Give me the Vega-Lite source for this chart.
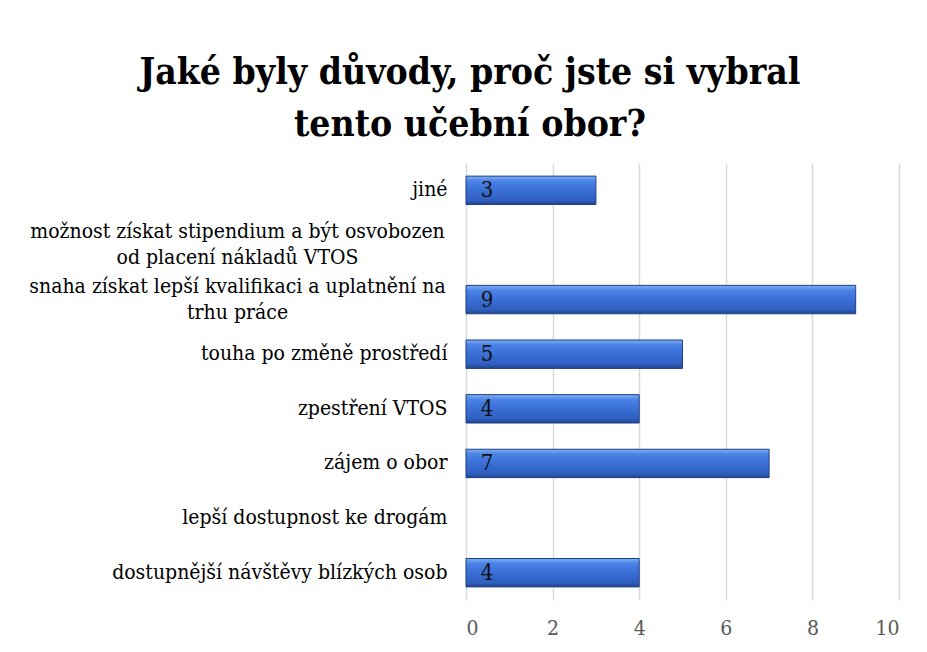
{
  "$schema": "https://vega.github.io/schema/vega-lite/v6.json",
  "width": 433,
  "height": 437,
  "autosize": {"type": "none"},
  "padding": {"left": 466, "top": 163, "right": 28, "bottom": 52},
  "background": "white",
  "title": {
    "text": ["Jaké byly důvody, proč jste si vybral", "tento učební obor?"],
    "font": "DejaVu Serif Condensed",
    "fontSize": 37,
    "fontWeight": "bold",
    "color": "#000000",
    "lineHeight": 52,
    "anchor": "middle",
    "frame": "bounds",
    "offset": 19,
    "dx": 6
  },
  "data": {
    "values": [
      {"reason": "jiné", "value": 3},
      {"reason": "možnost získat stipendium a být osvobozen|od placení nákladů VTOS", "value": 0},
      {"reason": "snaha získat lepší kvalifikaci a uplatnění na|trhu práce", "value": 9},
      {"reason": "touha po změně prostředí", "value": 5},
      {"reason": "zpestření VTOS", "value": 4},
      {"reason": "zájem o obor", "value": 7},
      {"reason": "lepší dostupnost ke drogám", "value": 0},
      {"reason": "dostupnější návštěvy blízkých osob", "value": 4}
    ]
  },
  "encoding": {
    "y": {
      "field": "reason",
      "type": "nominal",
      "sort": null,
      "scale": {
        "domain": [
          "jiné",
          "možnost získat stipendium a být osvobozen|od placení nákladů VTOS",
          "snaha získat lepší kvalifikaci a uplatnění na|trhu práce",
          "touha po změně prostředí",
          "zpestření VTOS",
          "zájem o obor",
          "lepší dostupnost ke drogám",
          "dostupnější návštěvy blízkých osob"
        ],
        "paddingInner": 0.48,
        "paddingOuter": 0.24
      },
      "axis": {
        "title": null,
        "domain": false,
        "ticks": false,
        "labelFont": "DejaVu Serif Condensed",
        "labelFontSize": 21,
        "labelColor": "#000000",
        "labelLimit": 600,
        "labelLineHeight": 26,
        "labelExpr": "split(datum.label, '|')",
        "labelAlign": {"condition": {"test": "indexof(datum.value, '|') >= 0", "value": "center"}, "value": "right"},
        "labelPadding": {"condition": {"test": "indexof(datum.value, '|') >= 0", "value": 229}, "value": 19},
        "labelOffset": {"condition": {"test": "indexof(datum.value, '|') >= 0", "value": -13}, "value": 0}
      }
    },
    "x": {
      "field": "value",
      "type": "quantitative",
      "scale": {"domain": [0, 10]},
      "axis": {
        "title": null,
        "values": [0, 2, 4, 6, 8, 10],
        "domain": false,
        "ticks": false,
        "grid": true,
        "gridColor": "#d9d9d9",
        "gridWidth": 1.5,
        "labelFont": "DejaVu Serif Condensed",
        "labelFontSize": 21,
        "labelColor": "#595959",
        "labelPadding": 17
      }
    }
  },
  "layer": [
    {
      "transform": [{"filter": "datum.value > 0"}],
      "mark": {
        "type": "bar",
        "stroke": "#1f3f80",
        "strokeWidth": 1,
        "fill": {
          "gradient": "linear",
          "x1": 0, "y1": 0, "x2": 0, "y2": 1,
          "stops": [
            {"offset": 0, "color": "#7fb0f5"},
            {"offset": 0.18, "color": "#4a82e6"},
            {"offset": 0.5, "color": "#3a6fd6"},
            {"offset": 0.85, "color": "#2f5fc0"},
            {"offset": 1, "color": "#22468f"}
          ]
        }
      }
    },
    {
      "transform": [{"filter": "datum.value > 0"}],
      "mark": {
        "type": "text",
        "align": "center",
        "baseline": "middle",
        "dx": 21,
        "font": "DejaVu Serif Condensed",
        "fontSize": 22,
        "color": "#111111"
      },
      "encoding": {
        "x": {"datum": 0},
        "text": {"field": "value", "type": "quantitative"}
      }
    }
  ],
  "config": {"view": {"stroke": null}}
}
